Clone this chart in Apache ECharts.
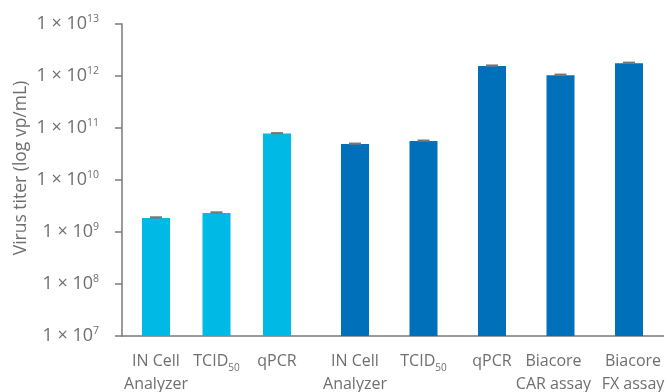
<!DOCTYPE html>
<html>
<head>
<meta charset="utf-8">
<script src="https://cdn.jsdelivr.net/npm/echarts@6/dist/echarts.min.js"></script>
<style>
  html, body { margin: 0; padding: 0; background: #fff; }
  #chart { width: 665px; height: 392px; }
</style>
</head>
<body>
<div id="chart"></div>
<script>
// Assay methods, in two groups ("TCID50" gets a subscript 50)
const methodsA = ['IN Cell\nAnalyzer', 'TCID50', 'qPCR'];
const methodsB = ['IN Cell\nAnalyzer', 'TCID50', 'qPCR', 'Biacore\nCAR assay', 'Biacore\nFX assay'];

// Titers (vp/mL)
const titersA = [1.86e9, 2.32e9, 7.8e10];
const titersB = [4.9e10, 5.6e10, 1.55e12, 1.03e12, 1.75e12];

// Standard error of each titer (vp/mL)
const errA = [0.05e9, 0.06e9, 1.5e9];
const errB = [1.0e9, 1.2e9, 0.04e12, 0.03e12, 0.05e12];

// Decades shown on the log axis
const yMin = 1e7, yMax = 1e13;

const FONT = '"Open Sans", "DejaVu Sans", sans-serif';
const GREY = '#6f6f6f';
const AXIS_GREY = '#7a7a7a';
const TOP = 24, BOTTOM = 56;

// Two-line labels that sit side by side at the right are nudged apart a little
const labelStyleKey = { 'Biacore\nCAR assay': 'ml', 'Biacore\nFX assay': 'mr' };

function categoryAxis(gridIndex, data) {
  const base = { fontFamily: FONT, fontSize: 16, color: GREY, lineHeight: 23 };
  return {
    type: 'category',
    gridIndex: gridIndex,
    data: data,
    axisLine: { show: false },
    axisTick: { show: false },
    axisLabel: {
      interval: 0,
      margin: 14,
      color: GREY,
      fontFamily: FONT,
      fontSize: 16,
      lineHeight: 23,
      formatter: function (val) {
        if (val === 'TCID50') return '{m|TCID}{sub|50}';
        const key = labelStyleKey[val] || 'm';
        return val.split('\n').map(s => '{' + key + '|' + s + '}').join('\n');
      },
      rich: {
        m: base,
        ml: Object.assign({}, base, { padding: [0, 14, 0, 0] }),
        mr: Object.assign({}, base, { padding: [0, 0, 0, 8] }),
        sub: { fontFamily: FONT, fontSize: 10, color: GREY, verticalAlign: 'bottom', lineHeight: 17 }
      }
    }
  };
}

function hiddenLogAxis(gridIndex) {
  return { type: 'log', logBase: 10, min: yMin, max: yMax, gridIndex: gridIndex, show: false };
}

function errorBars(xAxisIndex, values, errs) {
  return {
    type: 'custom',
    xAxisIndex: xAxisIndex,
    yAxisIndex: xAxisIndex,
    data: values.map((v, i) => [i, v, errs[i]]),
    z: 10,
    renderItem: function (params, api) {
      const x = api.value(0);
      const v = api.value(1);
      const e = api.value(2);
      const hi = api.coord([x, v + e]);
      const lo = api.coord([x, v - e]);
      const half = 6;
      const style = { stroke: '#777777', lineWidth: 2.2 };
      return {
        type: 'group',
        children: [
          { type: 'line', shape: { x1: hi[0], y1: hi[1], x2: lo[0], y2: lo[1] }, style: style },
          { type: 'line', shape: { x1: hi[0] - half, y1: hi[1], x2: hi[0] + half, y2: hi[1] }, style: style }
        ]
      };
    }
  };
}

const chart = echarts.init(document.getElementById('chart'), null, { renderer: 'canvas' });

const gridBase = { top: TOP, bottom: BOTTOM, containLabel: false, outerBoundsMode: 'none' };

chart.setOption({
  animation: false,
  backgroundColor: '#ffffff',
  grid: [
    Object.assign({ left: 125.75, width: 181.5 }, gridBase),   // first group
    Object.assign({ left: 320.75, width: 342.5 }, gridBase),   // second group
    Object.assign({ left: 122, width: 541.5 }, gridBase)       // shared baseline
  ],
  xAxis: [
    categoryAxis(0, methodsA),
    categoryAxis(1, methodsB),
    {
      type: 'value', gridIndex: 2, min: 0, max: 1,
      axisLine: { show: true, onZero: false, lineStyle: { color: AXIS_GREY, width: 1.5 } },
      axisTick: { show: false }, axisLabel: { show: false }, splitLine: { show: false }
    }
  ],
  yAxis: [
    {
      type: 'log',
      logBase: 10,
      gridIndex: 0,
      min: yMin,
      max: yMax,
      offset: 3.75,
      name: 'Virus titer (log vp/mL)',
      nameLocation: 'middle',
      nameGap: 92,
      nameTextStyle: { color: GREY, fontFamily: FONT, fontSize: 17.5, padding: [0, 0, 0, 24] },
      axisLine: { show: true, lineStyle: { color: AXIS_GREY, width: 1.5 } },
      axisTick: { show: true, length: 7, lineStyle: { color: AXIS_GREY, width: 1.5 } },
      splitLine: { show: false },
      minorTick: { show: false },
      axisLabel: {
        margin: 23,
        color: GREY,
        fontFamily: FONT,
        fontSize: 18,
        formatter: function (v) {
          const e = Math.round(Math.log10(v));
          return '{a|1 × 10}{s|' + e + '}';
        },
        rich: {
          a: { fontFamily: FONT, fontSize: 18, color: GREY, lineHeight: 21 },
          s: { fontFamily: FONT, fontSize: 10.5, color: GREY, verticalAlign: 'top', lineHeight: 14 }
        }
      }
    },
    hiddenLogAxis(1),
    { type: 'value', gridIndex: 2, show: false }
  ],
  series: [
    { type: 'bar', xAxisIndex: 0, yAxisIndex: 0, data: titersA, barWidth: 28, itemStyle: { color: '#00b9e5' } },
    { type: 'bar', xAxisIndex: 1, yAxisIndex: 1, data: titersB, barWidth: 28, itemStyle: { color: '#0070ba' } },
    errorBars(0, titersA, errA),
    errorBars(1, titersB, errB)
  ]
});
</script>
</body>
</html>
